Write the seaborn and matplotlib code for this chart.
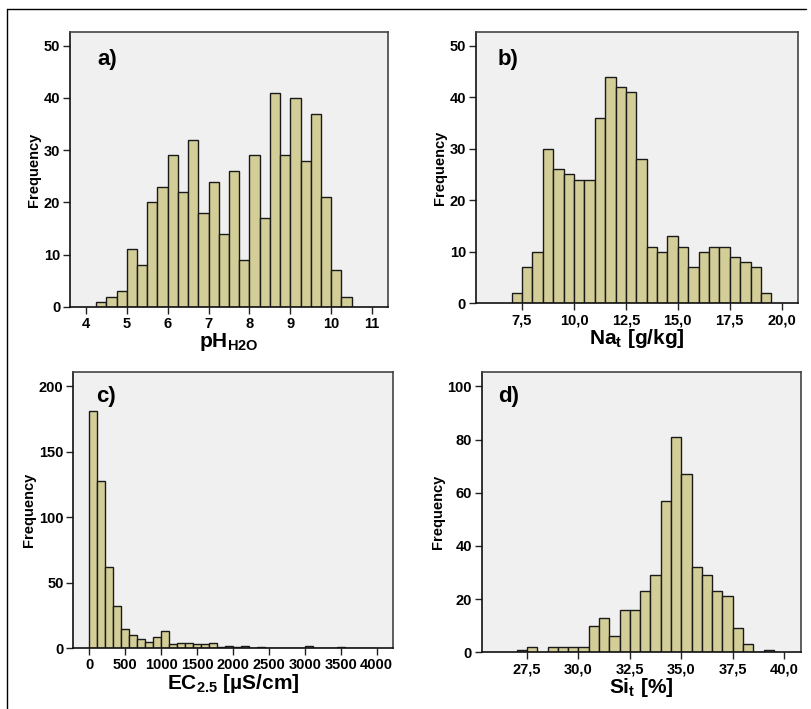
import numpy as np
import pandas as pd
import matplotlib
matplotlib.use("Agg")
import matplotlib.pyplot as plt
import seaborn as sns
from matplotlib.lines import Line2D

# ---------------- data ----------------
ph_start, ph_width = 4.25, 0.25
ph_counts = [1, 2, 3, 11, 8, 20, 23, 29, 22, 32, 18, 24, 14, 26, 9, 29, 17,
             41, 29, 40, 28, 37, 21, 7, 2]

na_start, na_width = 7.0, 0.5
na_counts = [2, 7, 10, 30, 26, 25, 24, 24, 36, 44, 42, 41, 28, 11, 10, 13, 11,
             7, 10, 11, 11, 9, 8, 7, 2]

ec_start, ec_width = 0.0, 4000.0 / 36
ec_counts = [181, 128, 62, 32, 15, 10, 7, 5, 9, 13, 3, 4, 4, 3, 3, 4, 1, 2, 1,
             2, 0, 1, 0, 0, 0, 0, 0, 2, 0, 0, 0, 1, 0, 0, 0, 0]

si_start, si_width = 27.0, 0.5
si_counts = [1, 2, 0, 2, 2, 2, 2, 10, 13, 6, 16, 16, 23, 29, 57, 81, 67, 32,
             29, 23, 21, 9, 3, 0, 1]

ph_xticks = [4, 5, 6, 7, 8, 9, 10, 11]
ph_xlabels = ["4", "5", "6", "7", "8", "9", "10", "11"]
na_xticks = [7.5, 10.0, 12.5, 15.0, 17.5, 20.0]
na_xlabels = ["7,5", "10,0", "12,5", "15,0", "17,5", "20,0"]
ec_xticks = [0, 500, 1000, 1500, 2000, 2500, 3000, 3500, 4000]
ec_xlabels = ["0", "500", "1000", "1500", "2000", "2500", "3000", "3500", "4000"]
si_xticks = [27.5, 30.0, 32.5, 35.0, 37.5, 40.0]
si_xlabels = ["27,5", "30,0", "32,5", "35,0", "37,5", "40,0"]

ph_yticks = [0, 10, 20, 30, 40, 50]
na_yticks = [0, 10, 20, 30, 40, 50]
ec_yticks = [0, 50, 100, 150, 200]
si_yticks = [0, 20, 40, 60, 80, 100]

# ---------------- style ----------------
sns.set_style("ticks")
plt.rcParams["font.family"] = ["Liberation Sans", "DejaVu Sans"]
plt.rcParams["font.weight"] = "bold"
plt.rcParams["text.color"] = "black"
plt.rcParams["axes.labelcolor"] = "black"
plt.rcParams["xtick.color"] = "black"
plt.rcParams["ytick.color"] = "black"
plt.rcParams["mathtext.fontset"] = "custom"
plt.rcParams["mathtext.rm"] = "Liberation Sans:bold"
plt.rcParams["mathtext.it"] = "Liberation Sans:bold"
plt.rcParams["mathtext.bf"] = "Liberation Sans:bold"
plt.rcParams["mathtext.default"] = "rm"

FILL = "#d3ce97"
EDGE = "#1a1a1a"
BG = "#f0f0f0"

fig = plt.figure(figsize=(8.11, 7.09), dpi=100)

panels = [
    dict(pos=[70, 388, 32, 307], start=ph_start, width=ph_width, counts=ph_counts,
         xlim=(3.61, 11.39), ylim=(0, 52.6), xt=ph_xticks, xl=ph_xlabels, yt=ph_yticks,
         xlabel=r"pH$_{\mathrm{H2O}}$", tag="a)", tagpos=(0.085, 0.90)),
    dict(pos=[475.7, 798.3, 32, 303.3], start=na_start, width=na_width, counts=na_counts,
         xlim=(5.27, 20.8), ylim=(0, 52.65), xt=na_xticks, xl=na_xlabels, yt=na_yticks,
         xlabel=r"Na$_{\mathrm{t}}$ [g/kg]", tag="b)", tagpos=(0.068, 0.897)),
    dict(pos=[73.3, 392.7, 372.3, 648.3], start=ec_start, width=ec_width, counts=ec_counts,
         xlim=(-223, 4223), ylim=(0, 210.7), xt=ec_xticks, xl=ec_xlabels, yt=ec_yticks,
         xlabel=r"EC$_{\mathrm{2.5}}$ [µS/cm]", tag="c)", tagpos=(0.07, 0.912)),
    dict(pos=[481.7, 800.7, 372.3, 652.3], start=si_start, width=si_width, counts=si_counts,
         xlim=(25.3, 40.8), ylim=(0, 105.3), xt=si_xticks, xl=si_xlabels, yt=si_yticks,
         xlabel=r"Si$_{\mathrm{t}}$ [%]", tag="d)", tagpos=(0.05, 0.912)),
]

W, H = 811.0, 709.0
for p in panels:
    l, r, t, b = p["pos"]
    ax = fig.add_axes([l / W, 1 - b / H, (r - l) / W, (b - t) / H])
    n = len(p["counts"])
    edges = [float(p["start"] + p["width"] * i) for i in range(n + 1)]
    centers = [(edges[i] + edges[i + 1]) / 2 for i in range(n)]
    df = pd.DataFrame({"x": centers, "w": [float(c) for c in p["counts"]]})
    sns.histplot(data=df, x="x", weights="w", bins=edges, ax=ax,
                 color=FILL, alpha=1.0, edgecolor=EDGE, linewidth=1.0)
    ax.set_facecolor(BG)
    ax.set_xlim(*p["xlim"])
    ax.set_ylim(*p["ylim"])
    ax.set_xticks(p["xt"])
    ax.set_xticklabels(p["xl"])
    ax.set_yticks(p["yt"])
    ax.set_yticklabels([str(v) for v in p["yt"]])
    ax.tick_params(axis="both", direction="out", length=5, width=1, color="#222222",
                   labelcolor="black", labelsize=10.5, pad=2)
    for lab in ax.get_xticklabels() + ax.get_yticklabels():
        lab.set_fontweight("bold")
    ax.set_ylabel("Frequency", fontsize=10.5, fontweight="bold", labelpad=2, color="black")
    ax.set_xlabel(p["xlabel"], fontsize=15, fontweight="bold", labelpad=0, color="black")
    for side in ["left", "bottom"]:
        ax.spines[side].set_color("#111111")
        ax.spines[side].set_linewidth(1.2)
    for side in ["top", "right"]:
        ax.spines[side].set_visible(True)
        ax.spines[side].set_color("#444444")
        ax.spines[side].set_linewidth(1.2)
    ax.text(p["tagpos"][0], p["tagpos"][1], p["tag"], transform=ax.transAxes,
            fontsize=16, fontweight="bold", ha="left", va="center", color="black")

# outer frame (top and left edges)
fig.add_artist(Line2D([7 / W, 806 / W], [1 - 9 / H, 1 - 9 / H], color="black", lw=1.0,
                      transform=fig.transFigure))
fig.add_artist(Line2D([7 / W, 7 / W], [1 - 9 / H, 0], color="black", lw=1.0,
                      transform=fig.transFigure))

fig.savefig("out.png", dpi=100)
